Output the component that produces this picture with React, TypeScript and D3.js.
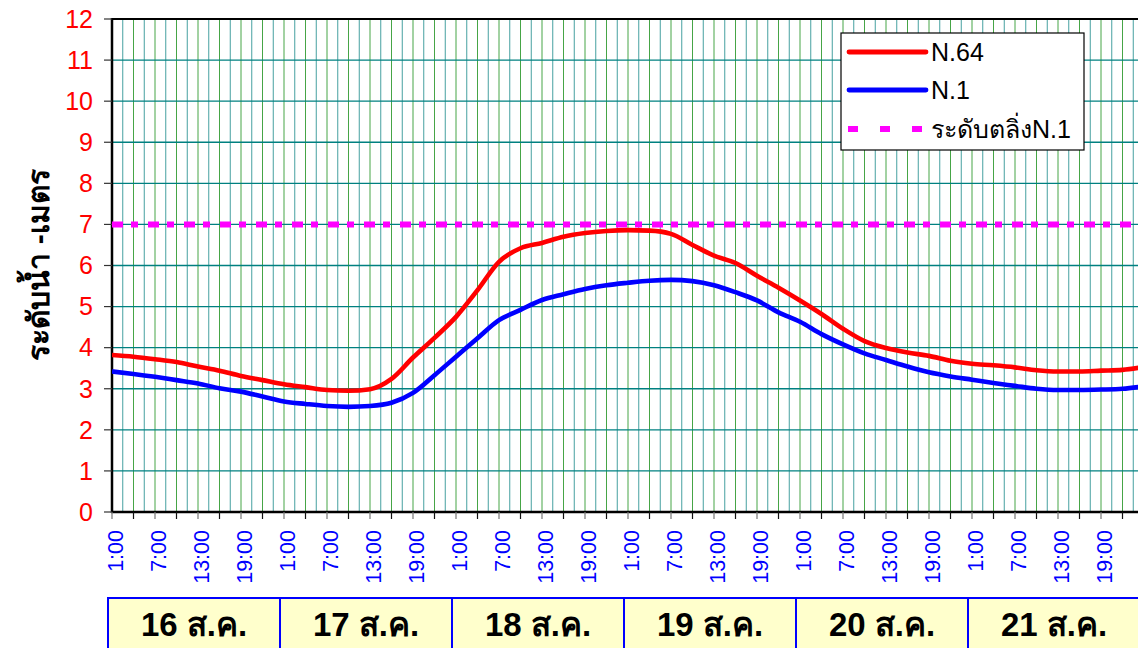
import React from "react";
import * as d3 from "d3";

// hours since 16 Aug 1:00, every 3 hours
const hours = d3.range(0, 145, 3);
const n64 = [3.82, 3.78, 3.72, 3.65, 3.54, 3.44, 3.31, 3.21, 3.11, 3.04, 2.97, 2.95, 2.99, 3.24, 3.76, 4.24, 4.75, 5.4, 6.09, 6.42, 6.55, 6.7, 6.79, 6.84, 6.86, 6.85, 6.77, 6.5, 6.24, 6.06, 5.75, 5.46, 5.15, 4.82, 4.46, 4.16, 3.99, 3.88, 3.8, 3.68, 3.61, 3.57, 3.52, 3.45, 3.42, 3.42, 3.44, 3.46, 3.53];
const n1 = [3.42, 3.36, 3.29, 3.21, 3.13, 3.01, 2.93, 2.81, 2.69, 2.63, 2.58, 2.56, 2.58, 2.66, 2.9, 3.33, 3.78, 4.23, 4.67, 4.92, 5.16, 5.3, 5.43, 5.52, 5.58, 5.63, 5.65, 5.62, 5.52, 5.35, 5.15, 4.86, 4.63, 4.33, 4.08, 3.86, 3.7, 3.54, 3.4, 3.3, 3.22, 3.14, 3.07, 3.0, 2.97, 2.97, 2.98, 3.0, 3.06];
const bankLevel = 7;
const yTicks = d3.range(0, 13);
const timeLabels = ["1:00", "7:00", "13:00", "19:00"];
const days = ["16 ส.ค.", "17 ส.ค.", "18 ส.ค.", "19 ส.ค.", "20 ส.ค.", "21 ส.ค."];
const seriesNames = ["N.64", "N.1", "ระดับตลิ่งN.1"];

const W = 1138, H = 648;
const left = 112, top = 19, bottom = 512, right = 1140;
const x = d3.scaleLinear().domain([0, 24]).range([left, left + 172]);
const y = d3.scaleLinear().domain([0, 12]).range([bottom, top]);
const font = "Arial, 'Liberation Sans', sans-serif";

export default function App() {
  const line = d3.line<number>().x((_, i) => x(hours[i])).y((d) => y(d)).curve(d3.curveMonotoneX);
  const maxH = x.invert(right);
  const grid = d3.range(0, maxH, 1.5);
  const ticks = d3.range(0, maxH, 3);
  return (
    <svg width={W} height={H} style={{ position: "absolute", left: 0, top: 0, display: "block" }} fontFamily={font}>
      <defs>
        <clipPath id="plot"><rect x={left} y={top - 4} width={right - left} height={bottom - top + 8} /></clipPath>
      </defs>
      {grid.map((h, i) => i === 0 ? null : (
        <line key={"vg" + i} x1={x(h)} x2={x(h)} y1={top} y2={bottom}
          stroke={i % 2 === 0 ? "rgb(70,165,70)" : "rgb(70,160,160)"} strokeWidth={1} />
      ))}
      {yTicks.map((v) => (
        <line key={"hg" + v} x1={left} x2={right} y1={y(v)} y2={y(v)} stroke="#008080" strokeWidth={1.3} />
      ))}
      <line x1={left} x2={right} y1={top} y2={top} stroke="#000" strokeWidth={2} />
      <line x1={left} x2={left} y1={top - 1} y2={bottom + 1} stroke="#000" strokeWidth={2.5} />
      <line x1={left - 1} x2={right} y1={bottom} y2={bottom} stroke="#000" strokeWidth={2.5} />
      {yTicks.map((v) => (
        <g key={"yt" + v}>
          <line x1={left - 8} x2={left} y1={y(v)} y2={y(v)} stroke="#333" strokeWidth={1.2} />
          <text x={93} y={y(v)} dy="0.35em" textAnchor="end" fontSize={25} fill="#ff0000">{v}</text>
        </g>
      ))}
      {ticks.map((h, i) => (
        <line key={"xt" + i} x1={x(h)} x2={x(h)} y1={bottom} y2={bottom + 7} stroke={i % 2 === 0 ? "#777" : "#111"} strokeWidth={1.2} />
      ))}
      {ticks.filter((_, i) => i % 2 === 0).map((h, i) => (
        <text key={"xl" + i} transform={`translate(${x(h) + 3},530) rotate(-90)`} dy="0.35em" textAnchor="end" fontSize={21.5} fill="#0000ff">
          {timeLabels[i % 4]}
        </text>
      ))}
      <g clipPath="url(#plot)">
        <line x1={left} x2={right} y1={y(bankLevel)} y2={y(bankLevel)} stroke="#ff00ff" strokeWidth={6} strokeDasharray="11 8 7 10" />
        <path d={line(n1) || ""} fill="none" stroke="#0000ff" strokeWidth={4.6} strokeLinejoin="round" />
        <path d={line(n64) || ""} fill="none" stroke="#ff0000" strokeWidth={4.6} strokeLinejoin="round" />
      </g>
      <text transform="translate(38,265) rotate(-90)" dy="0.35em" textAnchor="middle" fontSize={30} fontWeight="bold" fill="#000">ระดับน้ำ -เมตร</text>
      <g>
        <rect x={841} y={33} width={243} height={117} fill="#fff" stroke="#000" strokeWidth={1.2} />
        <line x1={849} x2={926} y1={52} y2={52} stroke="#ff0000" strokeWidth={4.8} strokeLinecap="round" />
        <line x1={849} x2={926} y1={90} y2={90} stroke="#0000ff" strokeWidth={4.8} strokeLinecap="round" />
        <line x1={848} x2={930} y1={129} y2={129} stroke="#ff00ff" strokeWidth={6} strokeDasharray="10 22" />
        {seriesNames.map((s, i) => (
          <text key={s} x={931} y={[52, 90, 129][i]} dy="0.36em" fontSize={25} fill="#000">{s}</text>
        ))}
      </g>
      {days.map((d, i) => (
        <g key={d}>
          <rect x={108 + 172 * i} y={598} width={172} height={60} fill="#ffffcc" stroke="#0000ff" strokeWidth={2} />
          <text x={108 + 172 * i + 86} y={636} textAnchor="middle" fontSize={33} fontWeight="bold" fill="#000">{d}</text>
        </g>
      ))}
    </svg>
  );
}
